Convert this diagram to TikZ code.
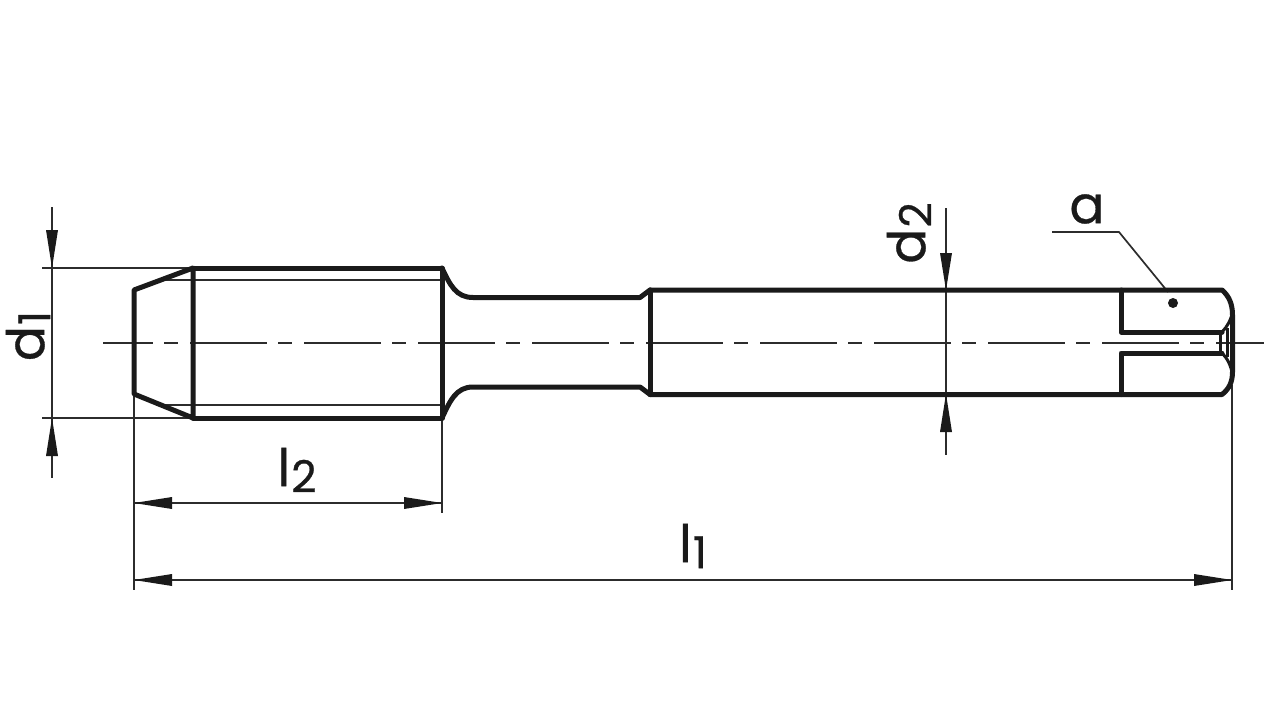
\documentclass[tikz,border=0pt]{standalone}
\usepackage{fontspec}
\setmainfont{Poppins}[FakeBold=0.6]
\usetikzlibrary{arrows.meta}
\definecolor{ink}{HTML}{1A1A1A}
\definecolor{thinink}{HTML}{2C2C2C}
\tikzset{
  body/.style={draw=ink,line width=5pt,line join=round,line cap=round},
  thin/.style={draw=thinink,line width=1.7pt},
  center/.style={draw=thinink,line width=1.7pt,dash pattern=on 77pt off 11pt on 14pt off 12pt,dash phase=27pt},
  tip/.style={fill=ink,draw=none},
  dimtext/.style={text=ink,font=\fontsize{52}{52}\selectfont,inner sep=0pt},
  tipline/.style={draw=ink,line width=3pt}
}
\newcommand{\subd}[1]{\kern1pt\raisebox{-6pt}{\fontsize{44}{44}\selectfont #1}}
\begin{document}
\begin{tikzpicture}[x=1pt,y=-1pt]
\useasboundingbox (0,0) rectangle (1267,725);
\fill[white] (0,0) rectangle (1267,725);
% centre line
\draw[center] (103,342.7) -- (1264,342.7);
% thin lines
\draw[thin] (42,268) -- (193,268);
\draw[thin] (42,418) -- (193,418);
\draw[thin] (165,280) -- (442,280);
\draw[thin] (165,405) -- (442,405);
\draw[thin] (52,207) -- (52,478);
\draw[thin] (946,208) -- (946,455);
\draw[thin] (134,394) -- (134,590);
\draw[thin] (442,418) -- (442,513);
\draw[thin] (1232,385) -- (1232,590);
\draw[thin] (134,503) -- (442,503);
\draw[thin] (134,580) -- (1232,580);
\draw[thin] (1052,232) -- (1119,232) -- (1168,292);
% arrow tips
\fill[tip] (52,268) -- (46,230) -- (58,230) -- cycle;
\fill[tip] (52,418) -- (46,456) -- (58,456) -- cycle;
\fill[tip] (946,290) -- (940,253) -- (952,253) -- cycle;
\fill[tip] (946,394) -- (940,432) -- (952,432) -- cycle;
\fill[tip] (134,503) -- (172,497) -- (172,509) -- cycle;
\fill[tip] (442,503) -- (404,497) -- (404,509) -- cycle;
\fill[tip] (134,580) -- (172,574) -- (172,586) -- cycle;
\fill[tip] (1232,580) -- (1194,574) -- (1194,586) -- cycle;
\fill[ink] (1173,303) circle (5);
% tool outline
\draw[body] (193,268) -- (134,290) -- (134,394) -- (193,418) -- cycle;
\draw[body] (193,268) -- (442,268) -- (442,418) -- (193,418);
\draw[body] (442,268) .. controls (450,285) and (456,297.5) .. (473,297.5) -- (640,297.5) -- (650,290);
\draw[body] (442,418) .. controls (450,401) and (456,387) .. (473,387) -- (640,387) -- (650,394.5);
\draw[body] (650,290) -- (650,394.5);
\draw[body] (650,290) -- (1222,290) .. controls (1229,296) and (1232.5,304) .. (1232.5,315) -- (1232.5,372) .. controls (1232.5,382) and (1229,389) .. (1222,394.5) -- (650,394.5);
\draw[body] (1121,290) -- (1121,332) -- (1222,332);
\draw[body] (1121,394.5) -- (1121,353) -- (1222,353);
\draw[tipline] (1222,332) .. controls (1227,327) and (1231,320) .. (1232.5,312);
\draw[tipline] (1222,353) .. controls (1227,358) and (1231,365) .. (1232.5,375);
\draw[tipline] (1220,332) -- (1220,353);
\draw[tipline] (1227,328) -- (1227,357);
% labels
\node[dimtext,rotate=90] (d1) at (28,336) {d\subd{1}};
\node[dimtext,rotate=90] (d2) at (909,233) {d\subd{2}};
\node[dimtext] (l2) at (297,470) {l\subd{2}};
\node[dimtext] (l1) at (693,546) {l\subd{1}};
\node[dimtext] (a) at (1087,209) {a};
\end{tikzpicture}
\end{document}
